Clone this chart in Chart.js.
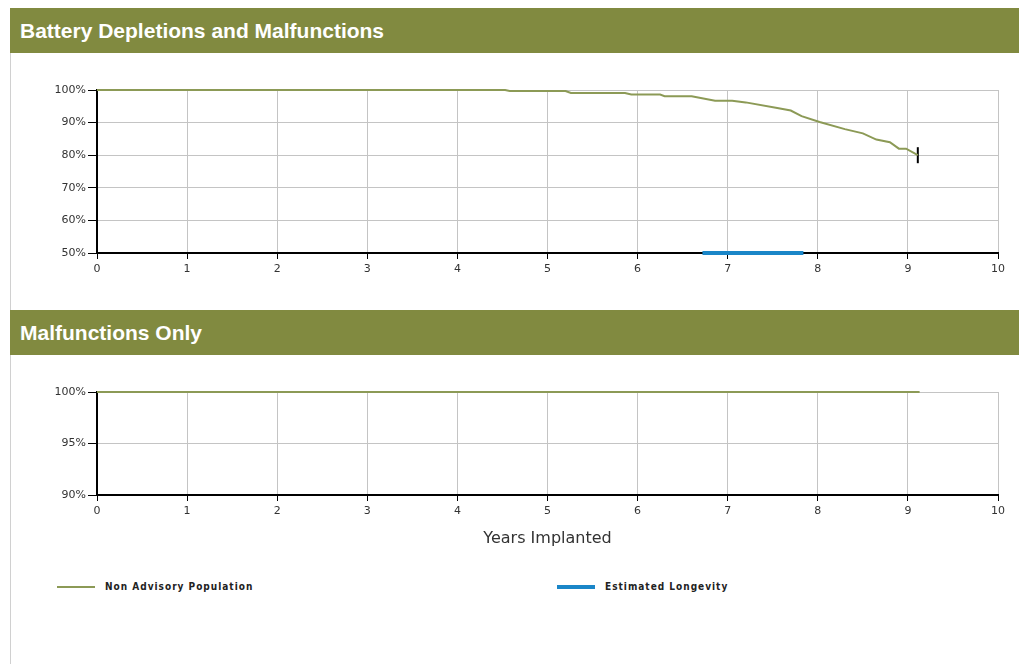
<!DOCTYPE html>
<html>
<head>
<meta charset="utf-8">
<script src="https://cdn.jsdelivr.net/npm/chart.js@4.4.0/dist/chart.umd.min.js"></script>
<style>
  body { margin:0; background:#fff; width:1019px; height:664px; position:relative; overflow:hidden; font-family:Arial, "Liberation Sans", sans-serif; }
  .frame { position:absolute; left:10px; top:8px; width:1009px; height:656px; border-left:1px solid #d0d0d0; }
  .head { position:absolute; left:10px; width:1009px; height:45px; background:#818a40; color:#fff; font-weight:bold; font-size:21px; line-height:45px; padding-left:10px; box-sizing:border-box; }
  .box { position:absolute; left:10px; width:1009px; }
  .legend { position:absolute; top:581px; font:bold 10px "DejaVu Sans Condensed", "DejaVu Sans", sans-serif; color:#222; letter-spacing:1px; white-space:nowrap; }
  .legend span.sw { display:inline-block; width:38px; vertical-align:middle; margin-right:10px; }
</style>
</head>
<body>
<div class="frame"></div>
<div class="head" style="top:8px">Battery Depletions and Malfunctions</div>
<div class="box" style="top:53px;height:257px"><canvas id="c1"></canvas></div>
<div class="head" style="top:310px">Malfunctions Only</div>
<div class="box" style="top:355px;height:193px"><canvas id="c2"></canvas></div>
<div class="legend" style="left:57px"><span class="sw" style="border-top:2px solid #8c9a56"></span>Non Advisory Population</div>
<div class="legend" style="left:557px"><span class="sw" style="border-top:4px solid #1a86c8"></span>Estimated Longevity</div>

<script>
// battery depletions and malfunctions survival curve
const bdYears = [0, 4.53, 4.58, 5.2, 5.26, 5.86, 5.93, 6.25, 6.3, 6.6, 6.86, 7.05, 7.2, 7.55, 7.7, 7.82, 8.02, 8.3, 8.5, 8.65, 8.8, 8.9, 8.98, 9.11];
const bdSurv  = [100, 100, 99.7, 99.7, 99.1, 99.1, 98.6, 98.6, 98.1, 98.1, 96.7, 96.7, 96.2, 94.5, 93.7, 92, 90.2, 88, 86.7, 84.8, 84, 82, 82, 80];
// censored end mark
const censorYear = 9.11;
const censorSurv = 80;
// estimated longevity range
const longevityYears = [6.72, 7.84];
const longevityLevel = 50;
// malfunctions only curve
const mfYears = [0, 9.13];
const mfSurv  = [100, 100];

const xTicks = [0, 1, 2, 3, 4, 5, 6, 7, 8, 9, 10];
const bdTicks = [50, 60, 70, 80, 90, 100];
const mfTicks = [90, 95, 100];

const green = '#8c9a56';
const blue = '#1a86c8';
const tickFont = { family: 'DejaVu Sans', size: 11 };

function pts(xs, ys) { return xs.map((x, i) => ({ x: x, y: ys[i] })); }

function makeScales(yTicks, xHeight, withTitle) {
  return {
    x: {
      type: 'linear', min: 0, max: 10,
      afterBuildTicks: s => { s.ticks = xTicks.map(v => ({ value: v })); },
      afterFit: s => { s.height = xHeight; },
      grid: { color: '#c4c4c4', tickColor: '#000', tickLength: 6 },
      border: { color: '#000', width: 2 },
      ticks: { font: tickFont, color: '#333', padding: 4, maxRotation: 0 },
      title: { display: withTitle, text: 'Years Implanted', font: { family: 'DejaVu Sans', size: 16 }, color: '#333', padding: { top: 0, bottom: 0 } }
    },
    y: {
      type: 'linear', min: yTicks[0], max: yTicks[yTicks.length - 1],
      afterBuildTicks: s => { s.ticks = yTicks.map(v => ({ value: v })); },
      ticks: { font: tickFont, color: '#333', padding: 2, callback: v => v + '%' },
      afterFit: s => { s.width = 87; },
      grid: { color: '#c4c4c4', tickColor: '#000', tickLength: 9 },
      border: { color: '#000', width: 2 }
    }
  };
}

const common = {
  responsive: true,
  maintainAspectRatio: false,
  animation: false,
  plugins: { legend: { display: false }, tooltip: { enabled: false } }
};

new Chart(document.getElementById('c1'), {
  type: 'line',
  data: {
    datasets: [
      { data: pts(bdYears, bdSurv), borderColor: green, borderWidth: 2, pointRadius: 0, tension: 0, clip: 4 },
      { data: pts(longevityYears, [longevityLevel, longevityLevel]), borderColor: blue, borderWidth: 4, pointRadius: 0, clip: 4 },
      { type: 'scatter', data: [{ x: censorYear, y: censorSurv }], pointStyle: 'line', rotation: 90, radius: 8, borderColor: '#000', borderWidth: 2, clip: 10 }
    ]
  },
  options: Object.assign({}, common, {
    layout: { padding: { top: 37, right: 21, bottom: 0, left: 0 } },
    scales: makeScales(bdTicks, 57, false)
  })
});

new Chart(document.getElementById('c2'), {
  type: 'line',
  data: {
    datasets: [
      { data: pts(mfYears, mfSurv), borderColor: green, borderWidth: 2, pointRadius: 0, tension: 0, clip: 4 }
    ]
  },
  options: Object.assign({}, common, {
    layout: { padding: { top: 37, right: 21, bottom: 0, left: 0 } },
    scales: makeScales(mfTicks, 53, true)
  })
});
</script>
</body>
</html>
